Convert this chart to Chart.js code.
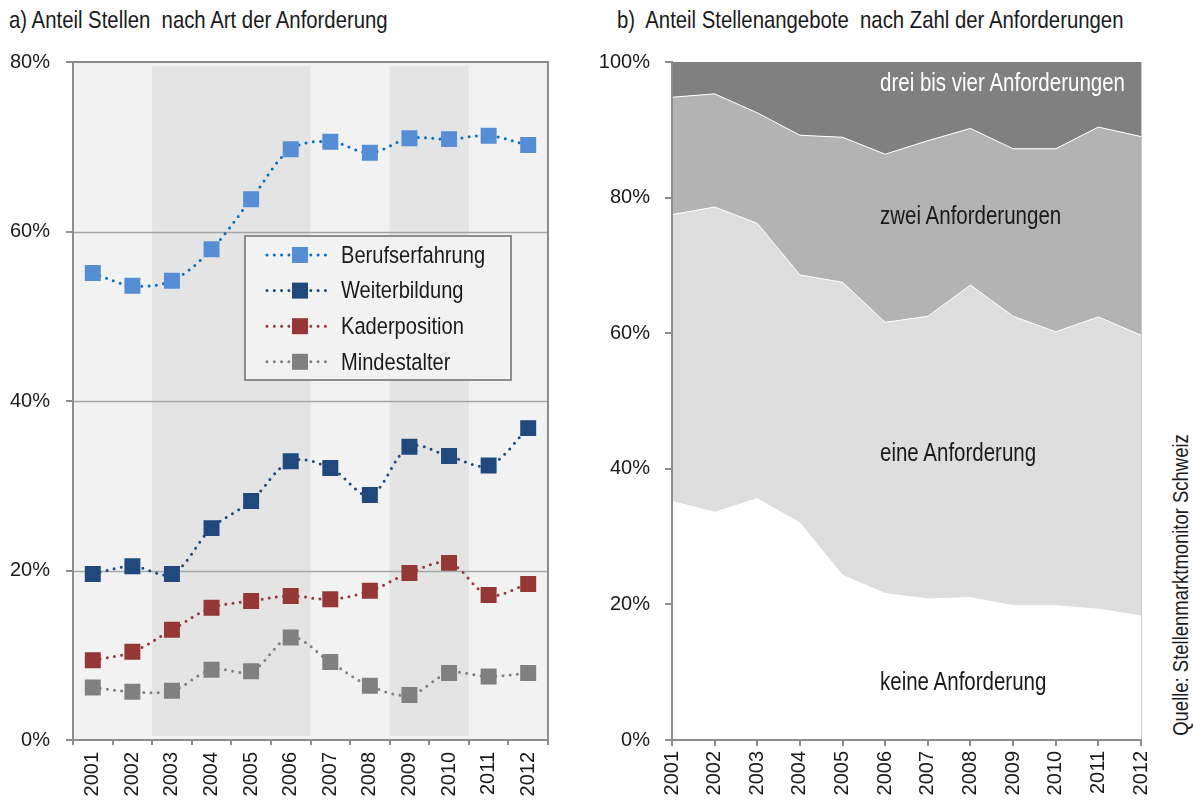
<!DOCTYPE html>
<html>
<head>
<meta charset="utf-8">
<script src="https://cdn.jsdelivr.net/npm/chart.js@4.4.0/dist/chart.umd.min.js"></script>
<style>
body { margin:0; background:#fff; width:1193px; height:800px; position:relative; overflow:hidden;
       font-family:'Liberation Sans',Arial,sans-serif; color:#1a1a1a; }
.box { position:absolute; top:0; height:800px; }
.t { position:absolute; white-space:nowrap; line-height:1; font-size:25px; transform:scaleX(0.82); transform-origin:0 50%; }
</style>
</head>
<body>
<div class="t" style="left:9px;top:8px;font-size:24.8px">a) Anteil Stellen&nbsp; nach Art der Anforderung</div>
<div class="t" style="left:617px;top:8px;font-size:24.8px">b)&nbsp; Anteil Stellenangebote&nbsp; nach Zahl der Anforderungen</div>

<div class="box" style="left:0;width:560px"><canvas id="leftChart"></canvas></div>
<div class="box" style="left:590px;width:575px"><canvas id="rightChart"></canvas></div>

<div class="t" style="left:880px;top:70px;color:#fff">drei bis vier Anforderungen</div>
<div class="t" style="left:880px;top:203px">zwei Anforderungen</div>
<div class="t" style="left:880px;top:440px">eine Anforderung</div>
<div class="t" style="left:880px;top:669px">keine Anforderung</div>
<div class="t" style="left:1181px;top:585px;font-size:22.5px;transform-origin:50% 50%;transform:translate(-50%,-50%) rotate(-90deg) scaleX(0.82)">Quelle: Stellenmarktmonitor Schweiz</div>

<script>
const FONT = "'Liberation Sans', Arial, sans-serif";
const years = ['2001','2002','2003','2004','2005','2006','2007','2008','2009','2010','2011','2012'];

// a) Anteil Stellen nach Art der Anforderung (%)
const berufserfahrung = [55.1, 53.6, 54.2, 57.9, 63.8, 69.7, 70.6, 69.3, 71.0, 70.9, 71.3, 70.2];
const weiterbildung   = [19.6, 20.5, 19.6, 25.0, 28.2, 32.9, 32.1, 28.9, 34.6, 33.5, 32.4, 36.8];
const kaderposition   = [ 9.4, 10.4, 13.0, 15.6, 16.4, 17.0, 16.6, 17.6, 19.7, 20.9, 17.1, 18.4];
const mindestalter    = [ 6.2,  5.7,  5.8,  8.3,  8.1, 12.1,  9.2,  6.4,  5.3,  7.9,  7.5,  7.9];
const shadedFrom = ['2003', '2009'];
const shadedTo   = ['2006', '2010'];

// b) Anteil Stellenangebote nach Zahl der Anforderungen (%)
const keineAnf = [35.2, 33.6, 35.6, 32.0, 24.3, 21.6, 20.8, 21.0, 19.8, 19.8, 19.3, 18.3];
const eineAnf  = [42.3, 45.0, 40.6, 36.6, 43.2, 40.0, 41.7, 46.1, 42.7, 40.4, 43.1, 41.4];
const zweiAnf  = [17.3, 16.7, 16.3, 20.6, 21.4, 24.8, 25.9, 23.1, 24.7, 27.0, 28.0, 29.3];
const dreiAnf  = [ 5.2,  4.7,  7.5, 10.8, 11.1, 13.6, 11.6,  9.8, 12.8, 12.8,  9.6, 11.0];

const AXIS = '#8c8c8c';

function lineSet(label, data, line, marker) {
    return {
        label, data, borderColor: line, backgroundColor: marker,
        borderWidth: 3, borderDash: [0, 7.3], borderCapStyle: 'round',
        tension: 0.35, pointStyle: 'rect', pointRadius: 11.3, pointHoverRadius: 11.3,
        pointBackgroundColor: marker, pointBorderColor: marker, pointBorderWidth: 0
    };
}

// --- LEFT: background, shaded bands, frame, legend ---
const leftDecor = {
    id: 'leftDecor',
    beforeDatasetsDraw(chart) {
        const { ctx, chartArea: a, scales: { x, y } } = chart;
        ctx.save();
        ctx.fillStyle = '#f2f2f2';
        ctx.fillRect(a.left, a.top, a.right - a.left, a.bottom - a.top);
        ctx.fillStyle = '#e4e4e4';
        shadedFrom.forEach((f, i) => {
            const x0 = x.getPixelForValue(years.indexOf(f) - 0.5);
            const x1 = x.getPixelForValue(years.indexOf(shadedTo[i]) + 0.5);
            ctx.fillRect(x0, a.top + 4, x1 - x0, a.bottom - a.top - 8);
        });
        ctx.strokeStyle = '#a6a6a6';
        ctx.lineWidth = 1.5;
        [20, 40, 60].forEach(v => {
            const py = Math.round(y.getPixelForValue(v)) + 0.5;
            ctx.beginPath(); ctx.moveTo(a.left, py); ctx.lineTo(a.right, py); ctx.stroke();
        });
        ctx.strokeStyle = AXIS;
        ctx.lineWidth = 2;
        ctx.strokeRect(a.left, a.top, a.right - a.left, a.bottom - a.top);
        ctx.restore();
    },
    afterDraw(chart) {
        const ctx = chart.ctx;
        ctx.save();
        ctx.fillStyle = '#f2f2f2';
        ctx.fillRect(245, 236, 266, 144);
        ctx.strokeStyle = AXIS;
        ctx.lineWidth = 2;
        ctx.strokeRect(245, 236, 266, 144);
        chart.data.datasets.forEach((ds, i) => {
            const yy = 255 + i * 35.6;
            ctx.strokeStyle = ds.borderColor;
            ctx.lineWidth = 3;
            ctx.lineCap = 'round';
            ctx.setLineDash([0, 7.3]);
            ctx.beginPath(); ctx.moveTo(267, yy); ctx.lineTo(331, yy); ctx.stroke();
            ctx.setLineDash([]);
            ctx.fillStyle = ds.pointBackgroundColor;
            ctx.fillRect(292, yy - 8, 16, 16);
            ctx.save();
            ctx.translate(341, yy + 1);
            ctx.scale(0.82, 1);
            ctx.fillStyle = '#1a1a1a';
            ctx.font = '24.5px ' + FONT;
            ctx.textBaseline = 'middle';
            ctx.fillText(ds.label, 0, 0);
            ctx.restore();
        });
        ctx.restore();
    }
};

new Chart(document.getElementById('leftChart'), {
    type: 'line',
    data: {
        labels: years,
        datasets: [
            lineSet('Berufserfahrung', berufserfahrung, '#0070c0', '#558ed5'),
            lineSet('Weiterbildung', weiterbildung, '#1f497d', '#1f497d'),
            lineSet('Kaderposition', kaderposition, '#953735', '#953735'),
            lineSet('Mindestalter', mindestalter, '#808080', '#808080')
        ]
    },
    options: {
        responsive: true, maintainAspectRatio: false, animation: false,
        layout: { padding: { top: 62, right: 12, left: 0, bottom: 0 } },
        plugins: { legend: { display: false }, tooltip: { enabled: false } },
        scales: {
            x: {
                offset: true,
                grid: { offset: true, drawOnChartArea: false, color: AXIS, tickLength: 5, lineWidth: 2 },
                border: { color: AXIS, width: 2 },
                ticks: { minRotation: 90, maxRotation: 90, color: '#1a1a1a', font: { family: FONT, size: 20 }, padding: 7 },
                afterFit(s) { s.height = 60; }
            },
            y: {
                min: 0, max: 80,
                grid: { drawOnChartArea: false, color: AXIS, tickLength: 7, lineWidth: 2 },
                border: { color: AXIS, width: 2 },
                ticks: { stepSize: 20, color: '#1a1a1a', padding: 16, font: { family: FONT, size: 20 }, callback: v => v + '%' },
                afterFit(s) { s.width = 73; }
            }
        }
    },
    plugins: [leftDecor]
});

// --- RIGHT: stacked areas ---
const rightDecor = {
    id: 'rightDecor',
    afterDatasetsDraw(chart) {
        const { ctx, chartArea: a } = chart;
        ctx.save();
        ctx.strokeStyle = '#c8c8c8';
        ctx.lineWidth = 1;
        ctx.beginPath(); ctx.moveTo(a.right + 0.5, a.top); ctx.lineTo(a.right + 0.5, a.bottom); ctx.stroke();
        ctx.restore();
    }
};

function areaSet(label, data, color, fill, border) {
    return { label, data, backgroundColor: color, borderColor: '#ffffff', borderWidth: border,
             fill, pointRadius: 0, tension: 0 };
}

new Chart(document.getElementById('rightChart'), {
    type: 'line',
    data: {
        labels: years,
        datasets: [
            areaSet('keine Anforderung', keineAnf, '#ffffff', 'origin', 1),
            areaSet('eine Anforderung', eineAnf, '#dddddd', '-1', 1),
            areaSet('zwei Anforderungen', zweiAnf, '#b3b3b3', '-1', 1),
            areaSet('drei bis vier Anforderungen', dreiAnf, '#808080', '-1', 0)
        ]
    },
    options: {
        responsive: true, maintainAspectRatio: false, animation: false,
        layout: { padding: { top: 62, right: 24, left: 0, bottom: 0 } },
        plugins: { legend: { display: false }, tooltip: { enabled: false } },
        scales: {
            x: {
                offset: false,
                grid: { drawOnChartArea: false, color: AXIS, tickLength: 6, lineWidth: 2 },
                border: { color: AXIS, width: 2, z: 1 },
                ticks: { minRotation: 90, maxRotation: 90, color: '#1a1a1a', font: { family: FONT, size: 20 }, padding: 5 },
                afterFit(s) { s.height = 60; s.paddingLeft = 0; s.paddingRight = 0; }
            },
            y: {
                stacked: true, min: 0, max: 100,
                grid: { drawOnChartArea: false, color: AXIS, tickLength: 7, lineWidth: 2 },
                border: { color: AXIS, width: 2, z: 1 },
                ticks: { stepSize: 20, color: '#1a1a1a', padding: 15, font: { family: FONT, size: 20 }, callback: v => v + '%' },
                afterFit(s) { s.width = 82; }
            }
        }
    },
    plugins: [rightDecor]
});
</script>
</body>
</html>
